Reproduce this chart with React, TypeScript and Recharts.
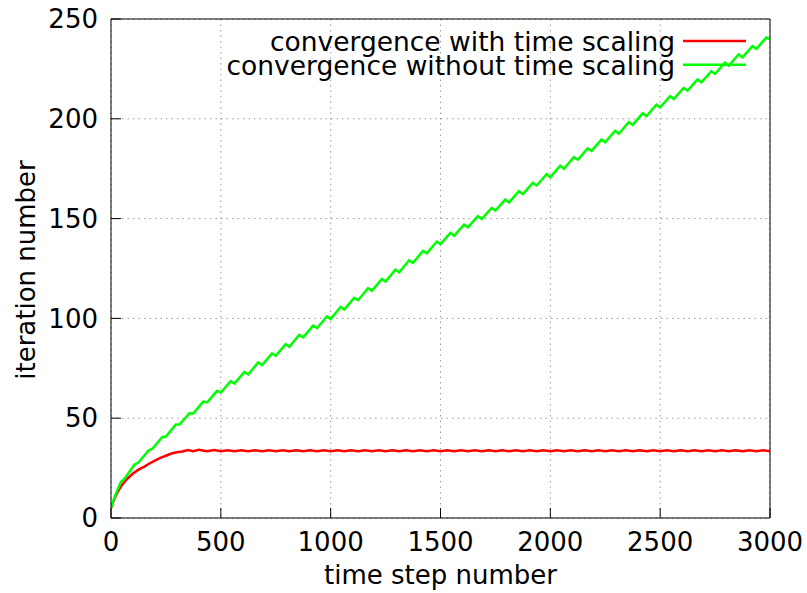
import React from 'react';
import { LineChart, Line, XAxis, YAxis, CartesianGrid, Legend } from 'recharts';

// convergence with time scaling (red)
const stepsWithScaling = [
  0, 15, 30, 50, 75, 100, 125, 150, 175, 200, 225, 250, 275, 300, 325, 350, 375, 400, 437, 470,
  500, 531, 562, 593, 625, 656, 688, 719, 750, 781, 812, 843, 875, 906, 938, 969,
  1000, 1031, 1062, 1093, 1125, 1156, 1188, 1219, 1250, 1281, 1312, 1343, 1375, 1406, 1438, 1469,
  1500, 1531, 1562, 1593, 1625, 1656, 1688, 1719, 1750, 1781, 1812, 1843, 1875, 1906, 1938, 1969,
  2000, 2031, 2062, 2093, 2125, 2156, 2188, 2219, 2250, 2281, 2312, 2343, 2375, 2406, 2438, 2469,
  2500, 2531, 2562, 2593, 2625, 2656, 2688, 2719, 2750, 2781, 2812, 2843, 2875, 2906, 2938, 2969, 3000,
];
const itersWithScaling = [
  5, 9.5, 13, 16.5, 19.8, 22.3, 24.2, 25.6, 27.3, 28.7, 30.1, 31.2, 32.3, 32.9, 33.3, 34.1, 33.5, 34.2, 33.4, 34.0,
  33.4, 33.9, 33.4, 33.9, 33.4, 33.9, 33.4, 33.9, 33.4, 33.9, 33.4, 33.9, 33.4, 33.9, 33.4, 33.9,
  33.4, 33.9, 33.4, 33.9, 33.4, 33.9, 33.4, 33.9, 33.4, 33.9, 33.4, 33.9, 33.4, 33.9, 33.4, 33.9,
  33.4, 33.9, 33.4, 33.9, 33.4, 33.9, 33.4, 33.9, 33.4, 33.9, 33.4, 33.9, 33.4, 33.9, 33.4, 33.9,
  33.4, 33.9, 33.4, 33.9, 33.4, 33.9, 33.4, 33.9, 33.4, 33.9, 33.4, 33.9, 33.4, 33.9, 33.4, 33.9,
  33.4, 33.9, 33.4, 33.9, 33.4, 33.9, 33.4, 33.9, 33.4, 33.9, 33.4, 33.9, 33.4, 33.9, 33.4, 33.9, 33.4,
];

// convergence without time scaling (green)
const stepsWithoutScaling = [
  0, 15, 30, 45, 62, 107, 125, 170, 188, 233, 250, 295, 312, 357, 375, 420, 438, 483,
  500, 545, 562, 607, 625, 670, 688, 733, 750, 795, 812, 857, 875, 920, 938, 983,
  1000, 1045, 1062, 1107, 1125, 1170, 1188, 1233, 1250, 1295, 1312, 1357, 1375, 1420, 1438, 1483,
  1500, 1545, 1562, 1607, 1625, 1670, 1688, 1733, 1750, 1795, 1812, 1857, 1875, 1920, 1938, 1983,
  2000, 2045, 2062, 2107, 2125, 2170, 2188, 2233, 2250, 2295, 2312, 2357, 2375, 2420, 2438, 2483,
  2500, 2545, 2562, 2607, 2625, 2670, 2688, 2733, 2750, 2795, 2812, 2857, 2875, 2920, 2938, 2983, 3000,
];
const itersWithoutScaling = [
  5, 10, 14.2, 18.0, 19.7, 26.8, 27.8, 33.7, 34.7, 40.5, 40.8, 46.8, 46.8, 52.5, 52.4, 58.3, 57.9, 63.7,
  62.9, 68.6, 67.3, 73.2, 72.0, 77.9, 76.6, 82.5, 81.2, 87.1, 85.8, 91.7, 90.5, 96.4, 95.1, 101.0,
  99.7, 105.7, 104.4, 110.3, 109.1, 115.1, 113.8, 119.8, 118.5, 124.4, 123.1, 129.1, 127.8, 133.8, 132.6, 138.5,
  137.2, 142.8, 141.4, 147.0, 145.6, 151.2, 149.8, 155.4, 154.0, 159.6, 158.1, 163.7, 162.3, 167.9, 166.6, 172.2,
  170.7, 176.5, 175.0, 180.8, 179.5, 185.2, 183.9, 189.6, 188.2, 194.0, 192.5, 198.3, 197.0, 202.7, 201.4, 207.1,
  205.7, 211.3, 209.9, 215.5, 214.1, 219.7, 218.3, 223.9, 222.5, 228.1, 226.6, 232.2, 230.8, 236.4, 235.1, 240.7, 240.0,
];

const xTicks = [0, 500, 1000, 1500, 2000, 2500, 3000];
const yTicks = [0, 50, 100, 150, 200, 250];
const seriesNames = ['convergence with time scaling', 'convergence without time scaling'];
const seriesColors = ['#ff0000', '#00ff00'];
const xLabel = 'time step number';
const yLabel = 'iteration number';

const dataWith = stepsWithScaling.map((x, i) => ({ x, y: itersWithScaling[i] }));
const dataWithout = stepsWithoutScaling.map((x, i) => ({ x, y: itersWithoutScaling[i] }));

const FONT = '"DejaVu Sans", sans-serif';
const FS = 26;

function LegendContent() {
  return (
    <svg width={807} height={100} style={{ overflow: 'visible', display: 'block' }}>
      {seriesNames.map((name, i) => (
        <g key={name}>
          <text x={675} y={51 + i * 23.7} textAnchor="end" fontSize={26.5} fill="#000" fontFamily={FONT}>
            {name}
          </text>
          <line x1={683} x2={746} y1={41 + i * 23.7} y2={41 + i * 23.7} stroke={seriesColors[i]} strokeWidth={2.5} />
        </g>
      ))}
    </svg>
  );
}

function YLabel(props: any) {
  const vb = props.viewBox || { x: 0, y: 19, width: 111, height: 499 };
  const cx = vb.x + 35;
  const cy = vb.y + vb.height / 2 + 1.5;
  return (
    <text x={cx} y={cy} transform={`rotate(-90, ${cx}, ${cy})`} textAnchor="middle" fontSize={FS} fill="#000" fontFamily={FONT}>
      {yLabel}
    </text>
  );
}

export default function App() {
  return (
    <div style={{ position: 'absolute', left: 0, top: 0, width: 807, height: 593, background: '#fff', fontFamily: FONT }}>
      <LineChart width={807} height={593} margin={{ top: 18, right: 36, bottom: 0, left: 0 }}>
        <CartesianGrid stroke="#9a9a9a" strokeDasharray="1.5 4" xAxisId="bottom" yAxisId="left" />
        <XAxis
          xAxisId="bottom"
          dataKey="x"
          type="number"
          domain={[0, 3000]}
          ticks={xTicks}
          allowDataOverflow
          height={75}
          stroke="#000"
          tickSize={-10}
          tickMargin={25}
          tick={{ fontSize: FS, fill: '#000' }}
          label={{ value: xLabel, position: 'insideBottom', offset: 9, fontSize: FS, fill: '#000' }}
        />
        <XAxis
          xAxisId="top"
          orientation="top"
          type="number"
          domain={[0, 3000]}
          ticks={xTicks}
          allowDataOverflow
          height={1}
          stroke="#000"
          tickSize={-10}
          tick={false}
        />
        <YAxis
          yAxisId="left"
          type="number"
          domain={[0, 250]}
          ticks={yTicks}
          allowDataOverflow
          width={111}
          stroke="#000"
          tickSize={-10}
          tickMargin={23}
          tick={{ fontSize: FS, fill: '#000' }}
          label={{ content: (p: any) => <YLabel {...p} /> }}
        />
        <YAxis
          yAxisId="right"
          orientation="right"
          type="number"
          domain={[0, 250]}
          ticks={yTicks}
          allowDataOverflow
          width={1}
          stroke="#000"
          tickSize={-10}
          tick={false}
        />
        <Legend
          layout="horizontal"
          verticalAlign="middle"
          align="center"
          content={() => <LegendContent />}
          wrapperStyle={{ position: 'absolute', left: 0, top: 0, width: 807, height: 0, overflow: 'visible', margin: 0 }}
        />
        <Line
          xAxisId="bottom"
          yAxisId="left"
          data={dataWith}
          dataKey="y"
          name={seriesNames[0]}
          type="linear"
          stroke={seriesColors[0]}
          strokeWidth={2.5}
          dot={false}
          isAnimationActive={false}
        />
        <Line
          xAxisId="bottom"
          yAxisId="left"
          data={dataWithout}
          dataKey="y"
          name={seriesNames[1]}
          type="linear"
          stroke={seriesColors[1]}
          strokeWidth={2.5}
          dot={false}
          isAnimationActive={false}
        />
      </LineChart>
    </div>
  );
}
